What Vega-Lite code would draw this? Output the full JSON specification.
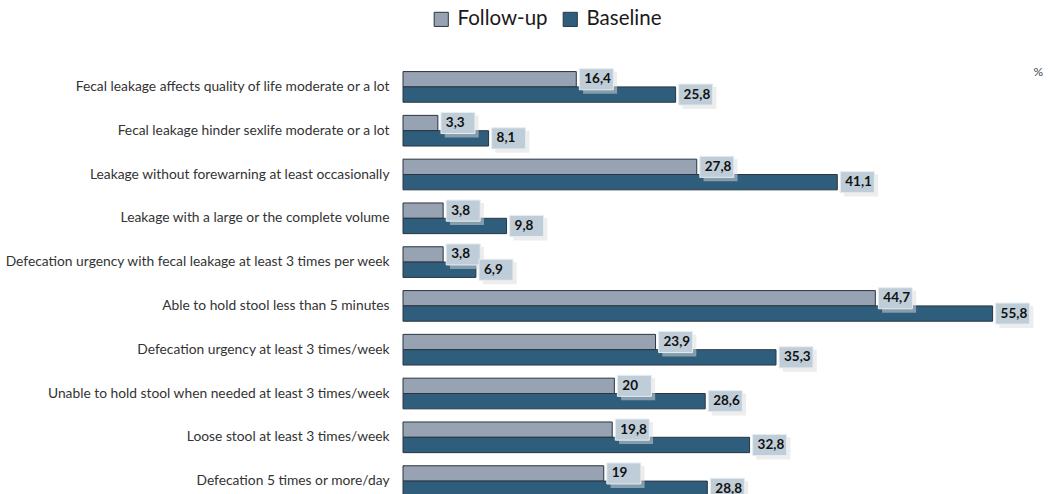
{
  "$schema": "https://vega.github.io/schema/vega-lite/v6.json",
  "autosize": {"type": "none"},
  "padding": {"left": 403, "top": 65, "right": 12, "bottom": 0},
  "width": 634,
  "height": 438,
  "background": "white",
  "config": {"view": {"stroke": null}, "font": "Lato"},
  "data": {
    "values": [
      {"item": "Fecal leakage affects quality of life moderate or a lot", "series": "Follow-up", "value": 16.4, "label": "16,4"},
      {"item": "Fecal leakage affects quality of life moderate or a lot", "series": "Baseline", "value": 25.8, "label": "25,8"},
      {"item": "Fecal leakage hinder sexlife moderate or a lot", "series": "Follow-up", "value": 3.3, "label": "3,3"},
      {"item": "Fecal leakage hinder sexlife moderate or a lot", "series": "Baseline", "value": 8.1, "label": "8,1"},
      {"item": "Leakage without forewarning at least occasionally", "series": "Follow-up", "value": 27.8, "label": "27,8"},
      {"item": "Leakage without forewarning at least occasionally", "series": "Baseline", "value": 41.1, "label": "41,1"},
      {"item": "Leakage with a large or the complete volume", "series": "Follow-up", "value": 3.8, "label": "3,8"},
      {"item": "Leakage with a large or the complete volume", "series": "Baseline", "value": 9.8, "label": "9,8"},
      {"item": "Defecation urgency with fecal leakage at least 3 times per week", "series": "Follow-up", "value": 3.8, "label": "3,8"},
      {"item": "Defecation urgency with fecal leakage at least 3 times per week", "series": "Baseline", "value": 6.9, "label": "6,9"},
      {"item": "Able to hold stool less than 5 minutes", "series": "Follow-up", "value": 44.7, "label": "44,7"},
      {"item": "Able to hold stool less than 5 minutes", "series": "Baseline", "value": 55.8, "label": "55,8"},
      {"item": "Defecation urgency at least 3 times/week", "series": "Follow-up", "value": 23.9, "label": "23,9"},
      {"item": "Defecation urgency at least 3 times/week", "series": "Baseline", "value": 35.3, "label": "35,3"},
      {"item": "Unable to hold stool when needed at least 3 times/week", "series": "Follow-up", "value": 20, "label": "20"},
      {"item": "Unable to hold stool when needed at least 3 times/week", "series": "Baseline", "value": 28.6, "label": "28,6"},
      {"item": "Loose stool at least 3 times/week", "series": "Follow-up", "value": 19.8, "label": "19,8"},
      {"item": "Loose stool at least 3 times/week", "series": "Baseline", "value": 32.8, "label": "32,8"},
      {"item": "Defecation 5 times or more/day", "series": "Follow-up", "value": 19, "label": "19"},
      {"item": "Defecation 5 times or more/day", "series": "Baseline", "value": 28.8, "label": "28,8"}
    ]
  },
  "encoding": {
    "y": {
      "field": "item", "type": "nominal", "sort": null,
      "scale": {"paddingInner": 0.3, "paddingOuter": 0.15},
      "axis": {"title": null, "domain": false, "ticks": false, "labelPadding": 14, "labelFontSize": 13.8, "labelColor": "#333333", "labelFont": "Lato", "labelLimit": 420}
    },
    "x": {
      "field": "value", "type": "quantitative",
      "scale": {"domain": [0, 60], "nice": false},
      "axis": {"orient": "top", "labels": false, "ticks": false, "domain": false, "grid": false, "title": "%", "titleFontWeight": "normal", "titleFontSize": 12, "titleColor": "#444", "titleAnchor": "end", "titleX": 630, "titleY": 6, "titleAlign": "left", "titleBaseline": "middle"}
    },
    "yOffset": {"field": "series", "type": "nominal", "sort": ["Follow-up", "Baseline"]}
  },
  "layer": [
    {
      "mark": {"type": "bar", "stroke": "#2a3540", "strokeWidth": 1, "cornerRadius": 0},
      "encoding": {
        "color": {
          "field": "series", "type": "nominal",
          "scale": {"domain": ["Follow-up", "Baseline"], "range": ["#97a2b2", "#2f5e7c"]},
          "legend": {"title": null, "orient": "none", "direction": "horizontal", "legendX": 28, "legendY": -56, "labelFontSize": 20.5, "labelFont": "Lato", "labelColor": "#1a1a1a", "symbolType": "square", "symbolSize": 200, "symbolStrokeColor": "#2a3540", "symbolStrokeWidth": 1, "columnPadding": 12, "labelOffset": 6}
        }
      }
    },
    {
      "mark": {"type": "point", "shape": "M0.4,-0.45H2.4V0.85H0.4Z", "size": 1156, "filled": true, "color": "#dcdcdc", "opacity": 0.5, "strokeWidth": 0},
      "encoding": {"x": {"field": "value", "type": "quantitative"}}
    },
    {
      "mark": {"type": "point", "shape": "M0.18,-0.62H2.18V0.62H0.18Z", "size": 1156, "filled": true, "fill": "#bfcdd8", "stroke": "#e6edf2", "strokeWidth": 1, "opacity": 1}
    },
    {
      "mark": {"type": "text", "align": "left", "baseline": "middle", "dx": 8, "fontSize": 13.5, "fontWeight": "bold", "font": "Lato", "color": "#111"},
      "encoding": {"text": {"field": "label"}}
    }
  ]
}
